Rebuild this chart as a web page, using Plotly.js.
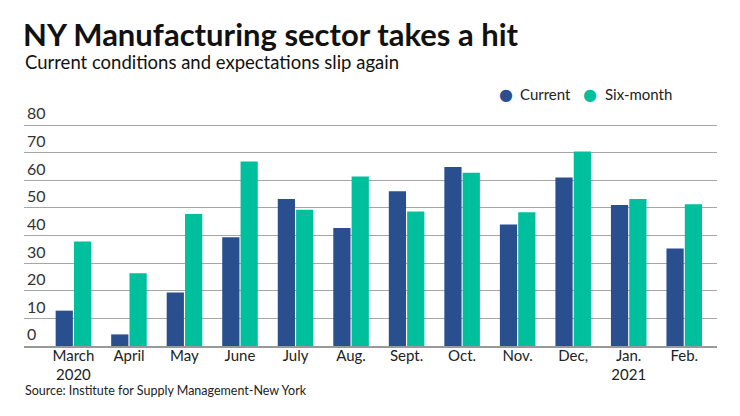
<!DOCTYPE html>
<html>
<head>
<meta charset="utf-8">
<script src="https://cdn.plot.ly/plotly-3.0.1.min.js"></script>
<style>html,body{margin:0;padding:0;background:#fff;}#chart{width:740px;height:416px;}</style>
</head>
<body>
<div id="chart"></div>
<script>
var categories = ["March<br>2020", "April", "May", "June", "July", "Aug.", "Sept.", "Oct.", "Nov.", "Dec,", "Jan.<br>2021", "Feb."];
var currentValues = [12.8, 4.2, 19.4, 39.4, 53.2, 42.7, 56.0, 64.8, 44.0, 61.0, 51.0, 35.3];
var sixMonthValues = [37.8, 26.3, 47.8, 66.8, 49.3, 61.4, 48.7, 62.7, 48.4, 70.4, 53.2, 51.3];
var yTicks = [0, 10, 20, 30, 40, 50, 60, 70, 80];
var seriesNames = ["Current", "Six-month"];

var blue = "#2a4f8f";
var green = "#00bf9d";
var font = "Lato, 'Open Sans', sans-serif";

var plotTop = 96, plotBottom = 346, plotH = plotBottom - plotTop, plotL = 24, plotW = 693;
function py(px) { return (plotBottom - px) / plotH; }
function pxX(px) { return (px - plotL) / plotW; }

var data = [
  {type: "bar", x: categories, y: currentValues, name: seriesNames[0], marker: {color: blue}, showlegend: false, hoverinfo: "y"},
  {type: "bar", x: categories, y: sixMonthValues, name: seriesNames[1], marker: {color: green}, showlegend: false, hoverinfo: "y"}
];

var layout = {
  width: 740, height: 416,
  margin: {l: plotL, r: 740 - plotL - plotW, t: plotTop, b: 416 - plotBottom},
  paper_bgcolor: "#fff", plot_bgcolor: "#fff",
  font: {family: font, color: "#222", size: 15},
  title: {text: "<b>NY Manufacturing sector takes a hit</b>", x: 23/740, xref: "container", xanchor: "left", y: 1 - 35/416, yref: "container", yanchor: "middle", font: {family: font, size: 31, color: "#111"}},
  bargap: 0.34, bargroupgap: 0.06,
  barmode: "group",
  showlegend: false,
  xaxis: {type: "category", range: [-0.89, 11.59], showgrid: false, ticks: "", showline: true, linecolor: "#999", linewidth: 1.5, tickfont: {family: font, size: 15, color: "#222"}, ticklabelstandoff: -5, fixedrange: true},
  yaxis: {range: [0, plotH / 2.7625], tickvals: yTicks, ticktext: yTicks.map(String), ticklabelposition: "inside top", showgrid: true, gridcolor: "#a6a6a6", gridwidth: 1, zeroline: false, showline: false, ticks: "", tickfont: {family: font, size: 16, color: "#333"}, fixedrange: true},
  annotations: [
    {text: "Current conditions and expectations slip again", xref: "paper", yref: "paper", x: pxX(23), y: py(62), xanchor: "left", yanchor: "middle", showarrow: false, font: {family: font, size: 18.5, color: "#111"}},
    {text: "Source: Institute for Supply Management-New York", xref: "paper", yref: "paper", x: pxX(23), y: py(390), xanchor: "left", yanchor: "middle", showarrow: false, font: {family: font, size: 12.5, color: "#222"}},
    {text: "●", xref: "paper", yref: "paper", x: pxX(506), y: py(94), xanchor: "center", yanchor: "middle", showarrow: false, font: {family: "DejaVu Sans", size: 16, color: blue}},
    {text: seriesNames[0], xref: "paper", yref: "paper", x: pxX(518), y: py(94), xanchor: "left", yanchor: "middle", showarrow: false, font: {family: font, size: 15, color: "#222"}},
    {text: "●", xref: "paper", yref: "paper", x: pxX(590), y: py(94), xanchor: "center", yanchor: "middle", showarrow: false, font: {family: "DejaVu Sans", size: 16, color: green}},
    {text: seriesNames[1], xref: "paper", yref: "paper", x: pxX(603), y: py(94), xanchor: "left", yanchor: "middle", showarrow: false, font: {family: font, size: 15, color: "#222"}}
  ]
};

Plotly.newPlot("chart", data, layout, {displayModeBar: false, staticPlot: true});
</script>
</body>
</html>
